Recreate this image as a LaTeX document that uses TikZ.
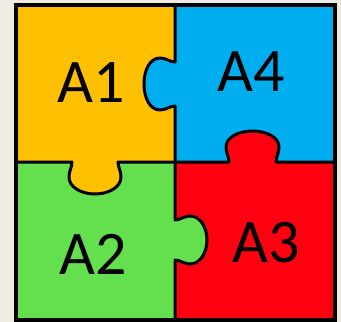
\documentclass[tikz,border=0pt]{standalone}
\usepackage{fontspec}
\setmainfont{Carlito}
\definecolor{bgc}{HTML}{EEEBE3}
\definecolor{yel}{HTML}{FFC000}
\definecolor{blu}{HTML}{00AEEF}
\definecolor{grn}{HTML}{64E04F}
\definecolor{rdd}{HTML}{FF0010}
\tikzset{lbl/.style={font=\fontsize{62}{62}\selectfont, inner sep=0pt, text=black, draw=none},
  edge/.style={draw=black, line width=3pt, line join=round}}
\begin{document}
\begin{tikzpicture}[x=1pt,y=-1pt]
\fill[bgc] (0,0) rectangle (341,322);
\useasboundingbox (0,0) rectangle (341,322);
\fill[yel] (16,5) rectangle (175,162);
\fill[blu] (175,5) rectangle (335,162);
\fill[grn] (16,162) rectangle (175,320);
\fill[rdd] (175,162) rectangle (335,320);
% blue tab into A1
\fill[blu] (176,62) .. controls (170,62) and (166,58) .. (160,58) .. controls (150,58) and (144,70) .. (144,84) .. controls (144,98) and (150,110) .. (160,110) .. controls (166,110) and (170,106) .. (176,106) -- cycle;
% green tab into A3
\fill[grn] (174,220) .. controls (180,220) and (184,216) .. (190,216) .. controls (200,216) and (207,227) .. (207,240) .. controls (207,253) and (200,264) .. (190,264) .. controls (184,264) and (180,260) .. (174,260) -- cycle;
% red tab into A4
\fill[rdd] (229,163) .. controls (229,157) and (226,153) .. (226,147) .. controls (226,137) and (239,131) .. (252.5,131) .. controls (266,131) and (279,137) .. (279,147) .. controls (279,153) and (276,157) .. (276,163) -- cycle;
% yellow tab into A2
\fill[yel] (72,161) .. controls (72,167) and (69,171) .. (69,177) .. controls (69,187) and (81,194) .. (95,194) .. controls (109,194) and (121,187) .. (121,177) .. controls (121,171) and (118,167) .. (118,161) -- cycle;
% dividing lines
\draw[edge] (175,5) -- (175,62) .. controls (170,62) and (166,58) .. (160,58) .. controls (150,58) and (144,70) .. (144,84) .. controls (144,98) and (150,110) .. (160,110) .. controls (166,110) and (170,106) .. (175,106) -- (175,220) .. controls (180,220) and (184,216) .. (190,216) .. controls (200,216) and (207,227) .. (207,240) .. controls (207,253) and (200,264) .. (190,264) .. controls (184,264) and (180,260) .. (175,260) -- (175,320);
\draw[edge] (16,162) -- (72,162) .. controls (72,167) and (69,171) .. (69,177) .. controls (69,187) and (81,194) .. (95,194) .. controls (109,194) and (121,187) .. (121,177) .. controls (121,171) and (118,167) .. (118,162) -- (229,162) .. controls (229,157) and (226,153) .. (226,147) .. controls (226,137) and (239,131) .. (252.5,131) .. controls (266,131) and (279,137) .. (279,147) .. controls (279,153) and (276,157) .. (276,162) -- (335,162);
\draw[black, line width=3.5pt] (16,5) rectangle (335,320);
\node[lbl] (a1) at (91.5,83) {A1};
\node[lbl] (a4) at (251.5,72) {A4};
\node[lbl] (a2) at (93.5,254) {A2};
\node[lbl] (a3) at (266.5,242.5) {A3};
\end{tikzpicture}
\end{document}
